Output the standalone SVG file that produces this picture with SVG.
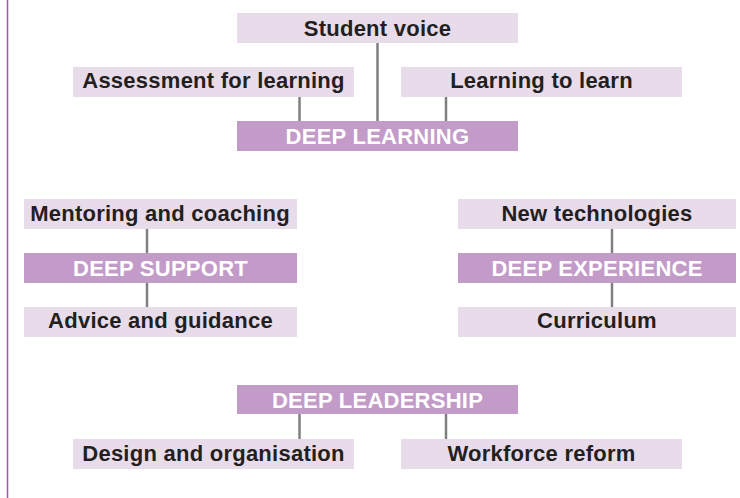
<svg xmlns="http://www.w3.org/2000/svg" width="740" height="498" viewBox="0 0 740 498">
  <style>
    .lbl { fill: #e8dcea; }
    .hub { fill: #c39bc8; }
    text { font-family: "Liberation Sans", Arial, Helvetica, sans-serif; font-size: 22px; font-weight: bold; letter-spacing: 0.25px; text-anchor: middle; }
    .dark { fill: #231f20; }
    .light { fill: #ffffff; }
    .link { stroke: #808080; stroke-width: 2.5; fill: none; }
  </style>
  <rect x="0" y="0" width="740" height="498" fill="#ffffff"/>
  <!-- left margin rule -->
  <line x1="7.5" y1="0" x2="7.5" y2="498" stroke="#9a5aa8" stroke-width="1.5"/>

  <g id="connectors">
    <line class="link" x1="377.5" y1="43" x2="377.5" y2="121"/>
    <line class="link" x1="299.5" y1="97" x2="299.5" y2="121"/>
    <line class="link" x1="446" y1="97" x2="446" y2="121"/>
    <line class="link" x1="147" y1="229" x2="147" y2="253"/>
    <line class="link" x1="147" y1="283" x2="147" y2="307"/>
    <line class="link" x1="612" y1="229" x2="612" y2="253"/>
    <line class="link" x1="612" y1="283" x2="612" y2="307"/>
    <line class="link" x1="299.5" y1="414" x2="299.5" y2="439"/>
    <line class="link" x1="446" y1="414" x2="446" y2="439"/>
  </g>

  <g id="student-voice">
    <rect class="lbl" x="237" y="13" width="281" height="30"/>
    <text class="dark" x="377.5" y="35.5">Student voice</text>
  </g>
  <g id="assessment-for-learning">
    <rect class="lbl" x="73" y="67" width="281" height="30"/>
    <text class="dark" x="213.5" y="88">Assessment for learning</text>
  </g>
  <g id="learning-to-learn">
    <rect class="lbl" x="401" y="67" width="281" height="30"/>
    <text class="dark" x="541.5" y="88">Learning to learn</text>
  </g>
  <g id="deep-learning">
    <rect class="hub" x="237" y="121" width="281" height="30"/>
    <text class="light" x="377.5" y="143.5">DEEP LEARNING</text>
  </g>

  <g id="mentoring-and-coaching">
    <rect class="lbl" x="24" y="199" width="273" height="30"/>
    <text class="dark" x="160" y="220.5">Mentoring and coaching</text>
  </g>
  <g id="deep-support">
    <rect class="hub" x="24" y="253" width="273" height="30"/>
    <text class="light" x="160.5" y="275.5">DEEP SUPPORT</text>
  </g>
  <g id="advice-and-guidance">
    <rect class="lbl" x="24" y="307" width="273" height="30"/>
    <text class="dark" x="160.5" y="327.5">Advice and guidance</text>
  </g>

  <g id="new-technologies">
    <rect class="lbl" x="458" y="199" width="278" height="30"/>
    <text class="dark" x="597" y="220.5">New technologies</text>
  </g>
  <g id="deep-experience">
    <rect class="hub" x="458" y="253" width="278" height="30"/>
    <text class="light" x="597" y="275.5">DEEP EXPERIENCE</text>
  </g>
  <g id="curriculum">
    <rect class="lbl" x="458" y="307" width="278" height="30"/>
    <text class="dark" x="597" y="327.5">Curriculum</text>
  </g>

  <g id="deep-leadership">
    <rect class="hub" x="237" y="385" width="281" height="29"/>
    <text class="light" x="377.5" y="408">DEEP LEADERSHIP</text>
  </g>
  <g id="design-and-organisation">
    <rect class="lbl" x="73" y="439" width="281" height="30"/>
    <text class="dark" x="213.5" y="460.5">Design and organisation</text>
  </g>
  <g id="workforce-reform">
    <rect class="lbl" x="401" y="439" width="281" height="30"/>
    <text class="dark" x="541.5" y="460.5">Workforce reform</text>
  </g>
</svg>
